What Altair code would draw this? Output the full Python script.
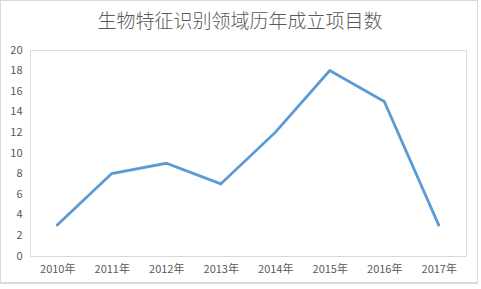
import altair as alt
import pandas as pd

years = ["2010年", "2011年", "2012年", "2013年", "2014年", "2015年", "2016年", "2017年"]
counts = [3, 8, 9, 7, 12, 18, 15, 3]
title_text = "生物特征识别领域历年成立项目数"

df = pd.DataFrame({"year": years, "count": counts})

FONT = "Noto Sans CJK SC"
GRAY = "#595959"

line = alt.Chart(df).mark_line(color="#5B9BD5", strokeWidth=2.8, strokeCap="round", strokeJoin="miter").encode(
    x=alt.X("year:N", sort=years, title=None,
            scale=alt.Scale(paddingInner=0, paddingOuter=0.5),
            axis=alt.Axis(labelAngle=0, ticks=False, domainColor="#D9D9D9", domainWidth=1,
                          labelPadding=7, labelFontSize=11, labelColor=GRAY, labelFont=FONT, grid=False)),
    y=alt.Y("count:Q", title=None,
            scale=alt.Scale(domain=[0, 20], nice=False),
            axis=alt.Axis(values=list(range(0, 21, 2)), ticks=False, domain=False, grid=False,
                          labelPadding=8, labelFontSize=11, labelColor=GRAY, labelFont=FONT)),
)

border = alt.Chart(df).mark_rect(fill=None, stroke="#D9D9D9", strokeWidth=1).encode(
    x=alt.value(-29.5), x2=alt.value(447.5), y=alt.value(-49.5), y2=alt.value(233)
)

title = alt.Chart(pd.DataFrame({"t": [title_text]})).mark_text(
    font=FONT, fontSize=19, fontWeight=300, color=GRAY, align="center", baseline="middle"
).encode(text="t:N", x=alt.value(210), y=alt.value(-28))

chart = alt.layer(border, line, title).properties(
    width=436, height=206,
    autosize=alt.AutoSizeParams(type="none"),
    padding={"left": 30, "top": 50, "right": 15, "bottom": 33},
).configure_view(stroke=None).configure(background="white")

chart.save("out.html", embed_options={"renderer": "svg", "actions": False})
